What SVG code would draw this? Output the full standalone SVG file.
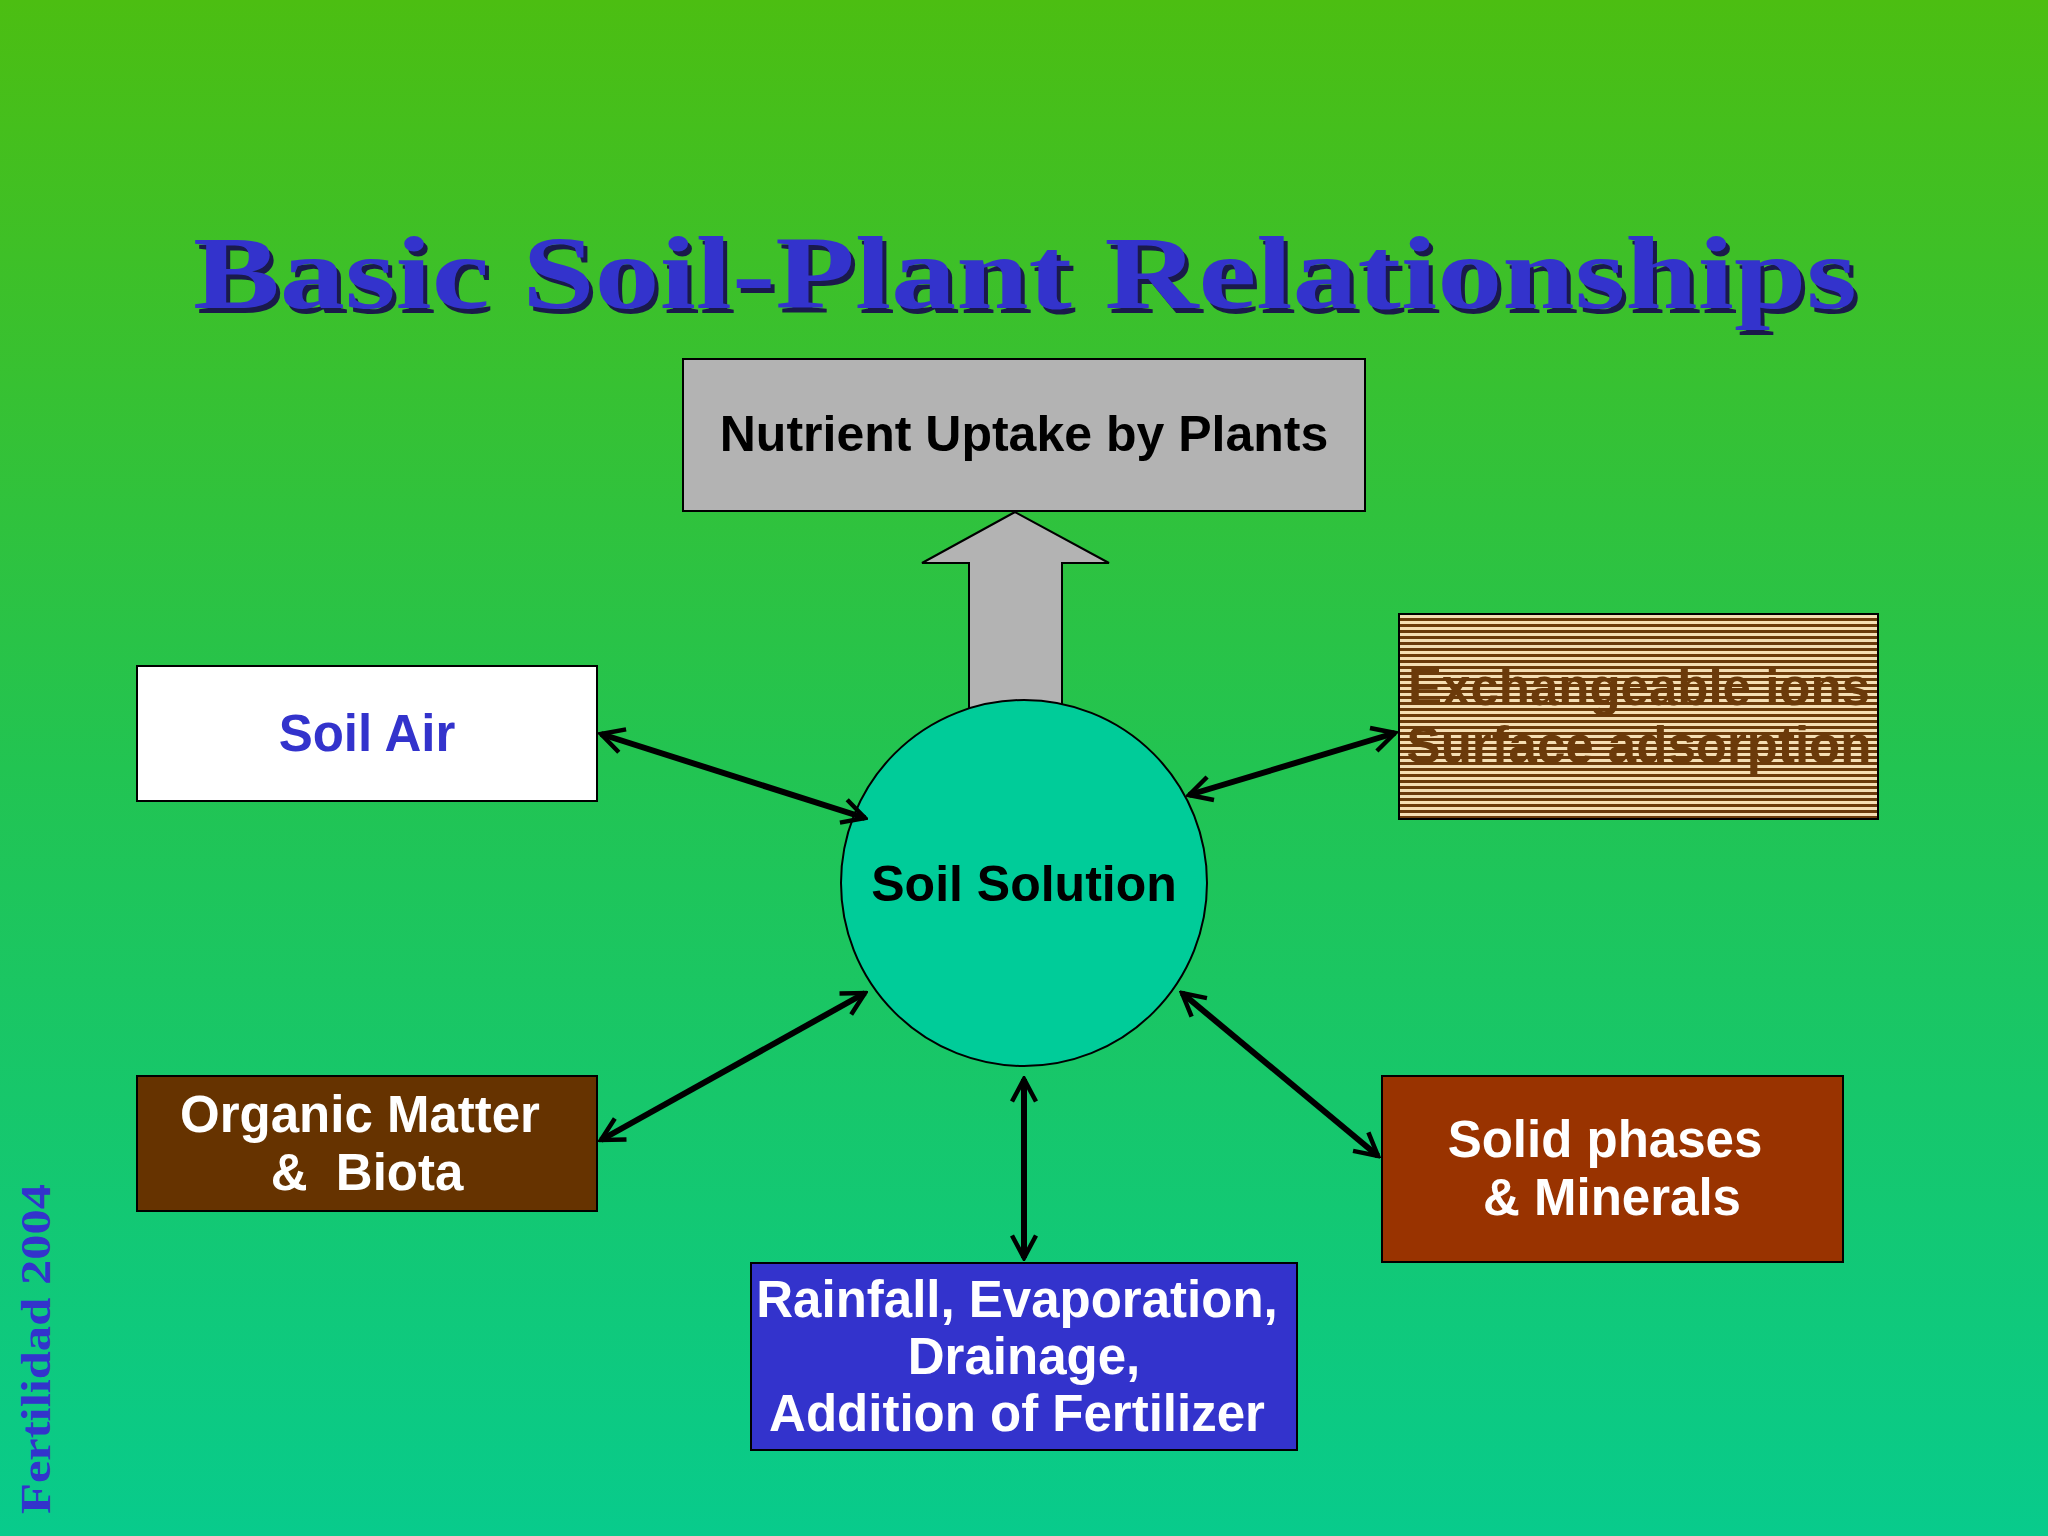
<svg xmlns="http://www.w3.org/2000/svg" width="2048" height="1536" viewBox="0 0 2048 1536">
<defs>
<linearGradient id="bg" x1="0" y1="0" x2="0" y2="1">
<stop offset="0" stop-color="#4cbe12"/><stop offset="0.5" stop-color="#22c452"/><stop offset="1" stop-color="#08cb8c"/>
</linearGradient>
<pattern id="stripes" width="8" height="6" patternUnits="userSpaceOnUse">
<rect width="8" height="6" fill="#f5deb3"/><rect width="8" height="3" fill="#6b3a0a"/>
</pattern>
<marker id="ah" viewBox="0 0 20 20" refX="18" refY="10" markerWidth="30" markerHeight="30" markerUnits="userSpaceOnUse" orient="auto-start-reverse">
<path d="M3,2 L18,10 L3,18" fill="none" stroke="#000" stroke-width="3"/>
</marker>
<style>
text{font-family:"Liberation Sans",Arial,sans-serif;font-weight:bold;text-anchor:middle}
.box{stroke:#000;stroke-width:2}
.w{fill:#fff;font-size:51px}
.conn line{stroke:#000;stroke-width:6}
</style>
</defs>
<rect width="2048" height="1536" fill="url(#bg)"/>
<g id="title">
<text x="1029" y="313" fill="#1a1a4a" textLength="1664" lengthAdjust="spacingAndGlyphs" style="font-family:'Liberation Serif',serif;font-size:104px">Basic Soil-Plant Relationships</text>
<text x="1025" y="308" fill="#3333cc" textLength="1664" lengthAdjust="spacingAndGlyphs" style="font-family:'Liberation Serif',serif;font-size:104px">Basic Soil-Plant Relationships</text>
</g>
<g id="uparrow"><polygon points="1015,512 1109,563 1062,563 1062,710 969,710 969,563 922,563" fill="#b3b3b3" stroke="#000" stroke-width="2"/></g>
<g id="nutrient"><rect class="box" x="683" y="359" width="682" height="152" fill="#b3b3b3"/><text x="1024" y="451" style="font-size:50px" fill="#000">Nutrient Uptake by Plants</text></g>
<g id="solution"><circle cx="1024" cy="883" r="183" fill="#00cc99" stroke="#000" stroke-width="2"/><text x="1024" y="901" style="font-size:50px" fill="#000">Soil Solution</text></g>
<g id="soilair"><rect class="box" x="137" y="666" width="460" height="135" fill="#fff"/><text x="367" y="751" style="font-size:51px" fill="#3333cc">Soil Air</text></g>
<g id="exchange"><rect class="box" x="1399" y="614" width="479" height="205" fill="url(#stripes)" stroke-width="3"/>
<text x="1639" y="705" style="font-size:51px" fill="#6b3a0a">Exchangeable ions</text><text x="1639" y="763" style="font-size:51px" fill="#6b3a0a">Surface adsorption</text></g>
<g id="organic"><rect class="box" x="137" y="1076" width="460" height="135" fill="#663300"/>
<text class="w" x="360" y="1132">Organic Matter</text><text class="w" x="367" y="1190" xml:space="preserve">&amp;  Biota</text></g>
<g id="rainfall"><rect class="box" x="751" y="1263" width="546" height="187" fill="#3333cc"/>
<text class="w" x="1017" y="1317">Rainfall, Evaporation,</text><text class="w" x="1024" y="1374">Drainage,</text><text class="w" x="1017" y="1431">Addition of Fertilizer</text></g>
<g id="solid"><rect class="box" x="1382" y="1076" width="461" height="186" fill="#993300"/>
<text class="w" x="1605" y="1157">Solid phases</text><text class="w" x="1612" y="1215">&amp; Minerals</text></g>
<g class="conn" id="connectors">
<line x1="601" y1="734" x2="865" y2="818" marker-start="url(#ah)" marker-end="url(#ah)"/>
<line x1="1189" y1="795" x2="1395" y2="733" marker-start="url(#ah)" marker-end="url(#ah)"/>
<line x1="601" y1="1140" x2="865" y2="993" marker-start="url(#ah)" marker-end="url(#ah)"/>
<line x1="1024" y1="1079" x2="1024" y2="1258" marker-start="url(#ah)" marker-end="url(#ah)"/>
<line x1="1182" y1="993" x2="1378" y2="1156" marker-start="url(#ah)" marker-end="url(#ah)"/>
</g>
<g id="footer"><text transform="translate(50,1349) rotate(-90)" textLength="330" lengthAdjust="spacingAndGlyphs" style="font-family:'Liberation Serif',serif;font-size:42px" fill="#3333cc">Fertilidad 2004</text></g>
</svg>
